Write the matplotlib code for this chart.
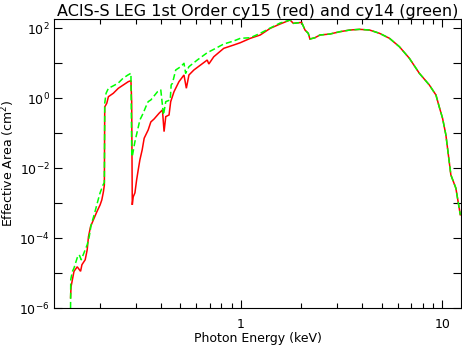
import matplotlib
matplotlib.use("Agg")
import matplotlib.pyplot as plt
from matplotlib.ticker import FixedLocator, NullFormatter, FixedFormatter

# ---- data (keV, cm^2) ----
energy_cy15 = [0.1427, 0.1435, 0.1484, 0.1540, 0.1600, 0.1625, 0.1687, 0.1726, 0.1751, 0.1792,
               0.1853, 0.1927, 0.2000, 0.2040, 0.2077, 0.2100, 0.2109, 0.2113, 0.2159, 0.2200,
               0.2327, 0.2464, 0.2608, 0.2760, 0.2846, 0.2870, 0.2890, 0.2921, 0.2979, 0.3037,
               0.3093, 0.3153, 0.3236, 0.3311, 0.3466, 0.3573, 0.3710, 0.3927, 0.4080, 0.4157,
               0.4238, 0.4400, 0.4484, 0.4657, 0.4929, 0.5220, 0.5363, 0.5524, 0.5846, 0.6310,
               0.6810, 0.6934, 0.7340, 0.8224, 0.9210, 0.9940, 1.114, 1.248, 1.399, 1.567,
               1.756, 1.823, 2.005, 2.083, 2.162, 2.204, 2.333, 2.470, 2.767, 3.100,
               3.474, 3.892, 4.360, 4.885, 5.473, 6.130, 6.870, 7.700, 8.630, 9.310,
               9.660, 10.04, 10.43, 11.04, 11.69, 12.30]
area_cy15 = [1.97e-6, 4.06e-6, 1.12e-5, 1.51e-5, 1.12e-5, 1.73e-5, 2.4e-5, 4.63e-5, 1.09e-4, 2.1e-4,
             3.33e-4, 5.64e-4, 8.9e-4, 1.24e-3, 2.1e-3, 3.3e-3, 0.564, 0.576, 0.72, 1.11,
             1.39, 1.93, 2.4, 2.98, 3.18, 0.80, 8.9e-4, 1.51e-3, 1.97e-3, 4.6e-3,
             8.9e-3, 1.73e-2, 3.33e-2, 0.0719, 0.124, 0.21, 0.256, 0.373, 0.463, 0.111,
             0.298, 0.333, 0.80, 1.54, 2.98, 4.63, 1.93, 4.63, 6.44, 8.94,
             12.4, 9.55, 15.4, 26.8, 33.3, 38.8, 51.8, 64.4, 100.0, 133.0,
             173.0, 139.0, 148.0, 89.4, 72.0, 49.5, 53.9, 64.4, 68.7, 80.0,
             89.4, 93.6, 89.4, 72.0, 51.8, 29.8, 13.9, 5.18, 2.4, 1.24,
             0.575, 0.268, 0.0894, 6.44e-3, 2.68e-3, 4.63e-4]

energy_cy14 = [0.1427, 0.1430, 0.1455, 0.1484, 0.1540, 0.1576, 0.1612, 0.1687, 0.1726, 0.1766,
               0.1806, 0.1869, 0.1956, 0.2000, 0.2070, 0.2100, 0.2109, 0.2142, 0.2200, 0.2320,
               0.2455, 0.2600, 0.2750, 0.2846, 0.2873, 0.2890, 0.2979, 0.3072, 0.3153, 0.3274,
               0.3376, 0.3466, 0.3573, 0.3857, 0.4004, 0.4129, 0.4238, 0.4460, 0.4508, 0.4574,
               0.4749, 0.5027, 0.5220, 0.5320, 0.5524, 0.6075, 0.6810, 0.7340, 0.8224, 0.9210,
               0.9940, 1.114, 1.248, 1.399, 1.567,
               1.756, 1.823, 2.005, 2.083, 2.162, 2.204, 2.333, 2.470, 2.767, 3.100,
               3.474, 3.892, 4.360, 4.885, 5.473, 6.130, 6.870, 7.700, 8.630, 9.310,
               9.660, 10.04, 10.43, 11.04, 11.69, 12.30]
area_cy14 = [1.0e-6, 6.46e-6, 1.09e-5, 1.39e-5, 2.74e-5, 3.33e-5, 2.4e-5, 4.63e-5, 6.44e-5, 1.09e-4,
             2.4e-4, 4.63e-4, 1.24e-3, 1.97e-3, 3.33e-3, 3.9e-3, 0.72, 1.39, 1.93, 2.25,
             2.68, 3.73, 4.63, 5.18, 0.0215, 0.0215, 0.0575, 0.124, 0.24, 0.373,
             0.575, 0.80, 0.894, 1.54, 1.73, 0.333, 0.80, 0.894, 2.4, 2.68,
             6.44, 8.0, 10.0, 5.18, 8.0, 12.4, 20.1, 25.1, 35.6, 43.4,
             51.8, 53.9, 72.0, 102.0, 142.0,
             173.0, 139.0, 148.0, 89.4, 72.0, 49.5, 53.9, 64.4, 68.7, 80.0,
             89.4, 93.6, 89.4, 72.0, 51.8, 29.8, 13.9, 5.18, 2.4, 1.24,
             0.575, 0.268, 0.0894, 6.44e-3, 2.68e-3, 4.63e-4]

y_tick_values = [1e-6, 1e-5, 1e-4, 1e-3, 1e-2, 1e-1, 1e0, 1e1, 1e2]
y_tick_labels = [r'$10^{-6}$', '', r'$10^{-4}$', '', r'$10^{-2}$', '', r'$10^{0}$', '', r'$10^{2}$']
x_major = [1.0, 10.0]
x_major_labels = ['1', '10']
x_minor = [0.2, 0.3, 0.4, 0.5, 0.6, 0.7, 0.8, 0.9, 2, 3, 4, 5, 6, 7, 8, 9]

W, H = 462, 345
fig = plt.figure(figsize=(W / 100, H / 100), dpi=100)
L, R, T, B = 54, 461, 19, 308
ax = fig.add_axes([L / W, 1 - B / H, (R - L) / W, (B - T) / H])

ax.plot(energy_cy15, area_cy15, color='#ff0000', lw=1.1, solid_joinstyle='miter')
ax.plot(energy_cy14, area_cy14, color='#00ff00', lw=1.1, dashes=(4, 2))

ax.set_xscale('log')
ax.set_yscale('log')
ax.set_xlim(12.398 / 105, 12.398)
ax.set_ylim(1e-6, 185)

ax.xaxis.set_major_locator(FixedLocator(x_major))
ax.xaxis.set_major_formatter(FixedFormatter(x_major_labels))
ax.xaxis.set_minor_locator(FixedLocator(x_minor))
ax.xaxis.set_minor_formatter(NullFormatter())
ax.yaxis.set_major_locator(FixedLocator(y_tick_values))
ax.yaxis.set_major_formatter(FixedFormatter(y_tick_labels))
ax.yaxis.set_minor_locator(FixedLocator([]))

ax.tick_params(which='both', direction='in', top=True, right=True, colors='black',
               labelsize=9, width=0.8)
ax.tick_params(axis='x', which='major', length=6, pad=7)
ax.tick_params(axis='x', which='minor', length=3.5)
ax.tick_params(axis='y', which='major', length=6, pad=3)
for s in ax.spines.values():
    s.set_linewidth(0.8)

ax.set_title('ACIS-S LEG 1st Order cy15 (red) and cy14 (green)', fontsize=11.5, pad=2)
ax.set_xlabel('Photon Energy (keV)', fontsize=9, labelpad=1)
ax.set_ylabel(r'Effective Area (cm$^2$)', fontsize=9, labelpad=2)

fig.savefig('out.png', dpi=100, facecolor='white')
